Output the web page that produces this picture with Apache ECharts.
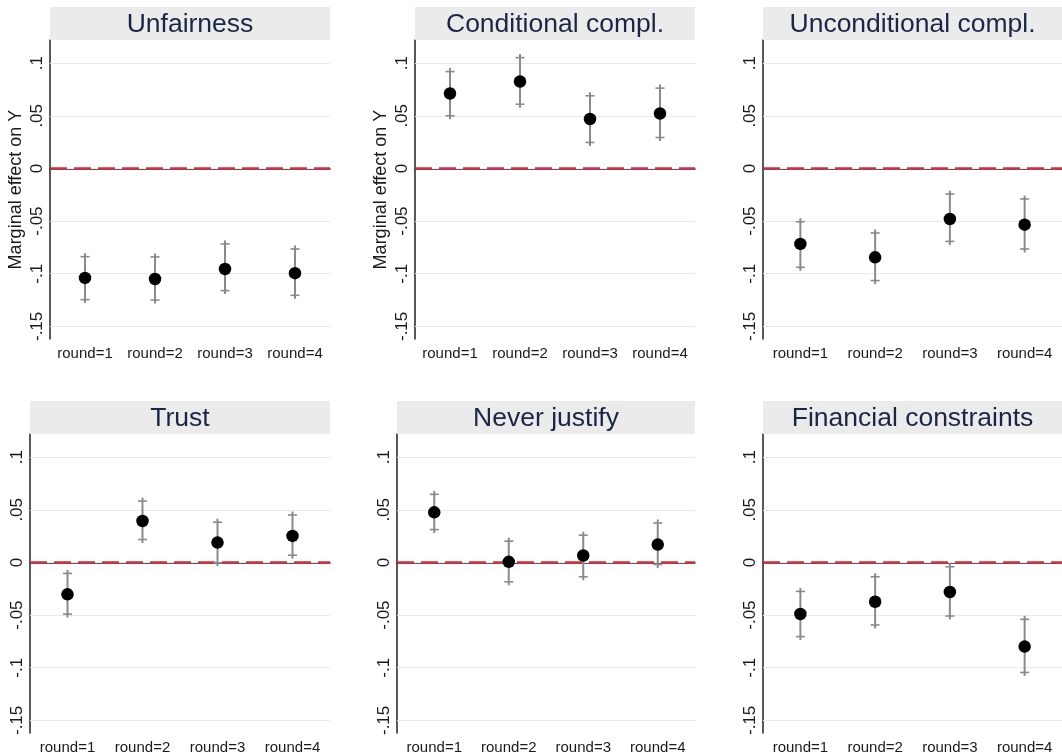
<!DOCTYPE html>
<html>
<head>
<meta charset="utf-8">
<script src="https://cdn.jsdelivr.net/npm/echarts@6/dist/echarts.min.js"></script>
<style>
html,body{margin:0;padding:0;background:#fff;}
#chart{width:1062px;height:756px;}
</style>
</head>
<body>
<div id="chart"></div>
<script>
// ---------- data ----------
const categories = ['round=1', 'round=2', 'round=3', 'round=4'];
const panelTitles = ['Unfairness', 'Conditional compl.', 'Unconditional compl.', 'Trust', 'Never justify', 'Financial constraints'];
const yAxisTitle = 'Marginal effect on Y';
const tickValues = [-0.15, -0.1, -0.05, 0, 0.05, 0.1];
const tickLabels = ['-.15', '-.1', '-.05', '0', '.05', '.1'];
const yMin = -0.162;
const yMax = 0.122;
const yStep = 0.002;

const unfairnessEst = [-0.104, -0.105, -0.0955, -0.0995];
const unfairnessLo  = [-0.1246, -0.125, -0.116, -0.1205];
const unfairnessHi  = [-0.0838, -0.084, -0.0717, -0.0765];

const conditionalEst = [0.0712, 0.0826, 0.047, 0.0522];
const conditionalLo  = [0.050, 0.061, 0.0247, 0.0294];
const conditionalHi  = [0.092, 0.1053, 0.069, 0.0763];

const unconditionalEst = [-0.0717, -0.0844, -0.048, -0.0534];
const unconditionalLo  = [-0.0939, -0.1065, -0.0693, -0.0765];
const unconditionalHi  = [-0.0506, -0.0613, -0.0243, -0.029];

const trustEst = [-0.0303, 0.0394, 0.0189, 0.0252];
const trustLo  = [-0.049, 0.0218, -0.0003, 0.0069];
const trustHi  = [-0.0104, 0.0583, 0.0382, 0.0451];

const neverJustifyEst = [0.0476, 0.0006, 0.0066, 0.017];
const neverJustifyLo  = [0.0312, -0.0184, -0.0136, -0.0019];
const neverJustifyHi  = [0.0647, 0.0202, 0.0259, 0.0375];

const financialEst = [-0.049, -0.0373, -0.0281, -0.0799];
const financialLo  = [-0.0704, -0.0594, -0.0509, -0.1045];
const financialHi  = [-0.0275, -0.0136, -0.0041, -0.054];

const panels = [
  {est: unfairnessEst, lo: unfairnessLo, hi: unfairnessHi},
  {est: conditionalEst, lo: conditionalLo, hi: conditionalHi},
  {est: unconditionalEst, lo: unconditionalLo, hi: unconditionalHi},
  {est: trustEst, lo: trustLo, hi: trustHi},
  {est: neverJustifyEst, lo: neverJustifyLo, hi: neverJustifyHi},
  {est: financialEst, lo: financialLo, hi: financialHi}
];

// ---------- layout ----------
const FONT = 'Liberation Sans, Arial, Helvetica, sans-serif';
const grids = [
  {left: 50,  top: 40,  width: 280, height: 299},
  {left: 415, top: 40,  width: 280, height: 299},
  {left: 763, top: 40,  width: 299, height: 299},
  {left: 30,  top: 434, width: 300, height: 299},
  {left: 397, top: 434, width: 298, height: 299},
  {left: 763, top: 434, width: 299, height: 299}
];
const titleBoxH = 33;

const option = {
  animation: false,
  backgroundColor: '#ffffff',
  textStyle: {fontFamily: FONT},
  grid: grids.map(g => Object.assign({containLabel: false}, g)),
  xAxis: [],
  yAxis: [],
  series: [],
  graphic: []
};

function fmtY(v) {
  for (let i = 0; i < tickValues.length; i++) {
    if (Math.abs(v - tickValues[i]) < 1e-6) return tickLabels[i];
  }
  return '';
}

panels.forEach((p, k) => {
  const g = grids[k];
  option.xAxis.push({
    type: 'category',
    gridIndex: k,
    data: categories,
    boundaryGap: true,
    axisLine: {show: true, lineStyle: {color: '#222', width: 1.5}},
    axisTick: {show: false},
    axisLabel: {interval: 0, hideOverlap: false, fontSize: 15, color: '#1a1a1a', margin: 7, fontFamily: FONT},
    splitLine: {show: false}
  });
  option.yAxis.push({
    type: 'value',
    gridIndex: k,
    min: yMin,
    max: yMax,
    interval: yStep,
    name: (k === 0 || k === 1) ? yAxisTitle : '',
    nameLocation: 'middle',
    nameGap: 25,
    nameRotate: 90,
    nameTextStyle: {fontSize: 18, color: '#1a1a1a', fontFamily: FONT},
    axisLine: {show: true, onZero: false, lineStyle: {color: '#222', width: 1.5}},
    axisTick: {show: false},
    splitLine: {show: false},
    axisLabel: {rotate: 90, fontSize: 17, color: '#1a1a1a', margin: 4, formatter: fmtY, fontFamily: FONT, showMinLabel: true, showMaxLabel: true}
  });

  // reference lines (grid + zero)
  const mlData = tickValues.map(v => ({yAxis: v, lineStyle: {color: '#e9e9e9', width: 1, type: 'solid'}}));
  mlData.push({yAxis: 0, lineStyle: {color: '#d12f3f', width: 2.5, type: [17, 7], dashOffset: 0}});
  option.series.push({
    type: 'line',
    xAxisIndex: k,
    yAxisIndex: k,
    data: [],
    silent: true,
    z: 1,
    markLine: {
      silent: true,
      z: 1,
      symbol: ['none', 'none'],
      label: {show: false},
      animation: false,
      emphasis: {disabled: true},
      data: mlData
    }
  });

  // confidence intervals
  option.series.push({
    type: 'custom',
    xAxisIndex: k,
    yAxisIndex: k,
    z: 3,
    silent: true,
    data: categories.map((c, i) => [i, p.lo[i], p.hi[i]]),
    encode: {x: 0, y: [1, 2]},
    renderItem: function (params, api) {
      const x = api.value(0);
      const pLo = api.coord([x, api.value(1)]);
      const pHi = api.coord([x, api.value(2)]);
      const cx = pLo[0];
      const ext = 3.5, cap = 4.5;
      const col = '#8a8a8a';
      return {
        type: 'group',
        children: [
          {type: 'line', shape: {x1: cx, y1: pHi[1] - ext, x2: cx, y2: pLo[1] + ext}, style: {stroke: col, lineWidth: 2}},
          {type: 'line', shape: {x1: cx - cap, y1: pHi[1], x2: cx + cap, y2: pHi[1]}, style: {stroke: col, lineWidth: 1.6}},
          {type: 'line', shape: {x1: cx - cap, y1: pLo[1], x2: cx + cap, y2: pLo[1]}, style: {stroke: col, lineWidth: 1.6}}
        ]
      };
    }
  });

  // point estimates
  option.series.push({
    type: 'scatter',
    xAxisIndex: k,
    yAxisIndex: k,
    z: 4,
    symbol: 'circle',
    symbolSize: 12.5,
    itemStyle: {color: '#000000', opacity: 1},
    data: p.est
  });

  // title box
  const boxTop = g.top - titleBoxH;
  option.graphic.push({
    type: 'rect',
    silent: true,
    shape: {x: g.left, y: boxTop, width: g.width, height: titleBoxH},
    style: {fill: '#ebebeb'},
    z: 10
  });
  option.graphic.push({
    type: 'text',
    silent: true,
    x: g.left + g.width / 2,
    y: boxTop + titleBoxH / 2 + 1,
    style: {
      text: panelTitles[k],
      fontSize: 26.5,
      fontFamily: FONT,
      fill: '#1b2545',
      align: 'center',
      verticalAlign: 'middle'
    },
    z: 11
  });
});

const chart = echarts.init(document.getElementById('chart'), null, {renderer: 'canvas'});
chart.setOption(option);
</script>
</body>
</html>
